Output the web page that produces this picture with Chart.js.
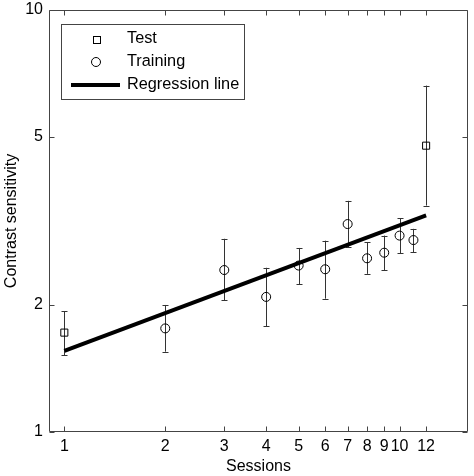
<!DOCTYPE html>
<html>
<head>
<meta charset="utf-8">
<script src="https://cdn.jsdelivr.net/npm/chart.js@4.4.1/dist/chart.umd.min.js"></script>
<style>
html,body{margin:0;padding:0;background:#fff;}
#wrap{position:relative;width:474px;height:476px;}
</style>
</head>
<body>
<div id="wrap"><canvas id="c" width="474" height="476"></canvas></div>
<script>
// ---- data ----
const testSessions = [1, 12];
const testValues = [1.72, 4.77];
const testUpper = [1.93, 6.62];
const testLower = [1.52, 3.44];

const trainSessions = [2, 3, 4, 5, 6, 7, 8, 9, 10, 11];
const trainValues = [1.76, 2.42, 2.09, 2.48, 2.43, 3.11, 2.58, 2.66, 2.92, 2.85];
const trainUpper  = [2.00, 2.87, 2.45, 2.73, 2.84, 3.53, 2.82, 2.92, 3.21, 3.03];
const trainLower  = [1.55, 2.05, 1.78, 2.24, 2.07, 2.74, 2.37, 2.42, 2.65, 2.67];

const regSessions = [1, 12];
const regValues = [1.556, 3.26];

const xTickValues = [1, 2, 3, 4, 5, 6, 7, 8, 9, 10, 12];
const yTickValues = [1, 2, 5, 10];

const FONT = "'Liberation Sans', Arial, Helvetica, sans-serif";

function pts(xs, ys, up, lo) {
  return xs.map((x, i) => ({x: x, y: ys[i], yMax: up ? up[i] : null, yMin: lo ? lo[i] : null}));
}

const errorBars = {
  id: 'errorBars',
  beforeDatasetsDraw(chart) {
    const ctx = chart.ctx;
    const xs = chart.scales.x, ys = chart.scales.y;
    ctx.save();
    ctx.strokeStyle = '#333';
    ctx.lineWidth = 1;
    chart.data.datasets.forEach(ds => {
      if (!ds.errorBars) return;
      ds.data.forEach(p => {
        const px = Math.round(xs.getPixelForValue(p.x)) + 0.5;
        const top = ys.getPixelForValue(p.yMax);
        const bot = ys.getPixelForValue(p.yMin);
        ctx.beginPath();
        ctx.moveTo(px, top); ctx.lineTo(px, bot);
        ctx.moveTo(px - 3, Math.round(top) + 0.5); ctx.lineTo(px + 3, Math.round(top) + 0.5);
        ctx.moveTo(px - 3, Math.round(bot) + 0.5); ctx.lineTo(px + 3, Math.round(bot) + 0.5);
        ctx.stroke();
      });
    });
    ctx.restore();
  }
};

const frame = {
  id: 'frame',
  afterDraw(chart) {
    const ctx = chart.ctx;
    const a = chart.chartArea;
    const xs = chart.scales.x, ys = chart.scales.y;
    ctx.save();
    ctx.strokeStyle = '#444';
    ctx.lineWidth = 1;
    const L = Math.round(a.left) + 0.5, R = Math.round(a.right) - 0.5;
    const T = Math.round(a.top) + 0.5, B = Math.round(a.bottom) - 0.5;
    ctx.beginPath();
    ctx.rect(L, T, R - L, B - T);
    const tl = 5;
    xTickValues.forEach(v => {
      const px = Math.round(xs.getPixelForValue(v)) + 0.5;
      ctx.moveTo(px, B); ctx.lineTo(px, B - tl);
      ctx.moveTo(px, T); ctx.lineTo(px, T + tl);
    });
    yTickValues.forEach(v => {
      const py = Math.round(ys.getPixelForValue(v)) + 0.5;
      ctx.moveTo(L, py); ctx.lineTo(L + tl, py);
      ctx.moveTo(R, py); ctx.lineTo(R - tl, py);
    });
    ctx.stroke();

    // legend
    const lx = a.left + 12, ly = a.top + 14, lw = 183, lh = 75;
    ctx.fillStyle = '#fff';
    ctx.fillRect(lx, ly, lw, lh);
    ctx.strokeStyle = '#444';
    ctx.strokeRect(Math.round(lx) + 0.5, Math.round(ly) + 0.5, lw, lh);
    ctx.strokeStyle = '#000';
    ctx.lineWidth = 1;
    const mx = a.left + 47;
    ctx.strokeRect(Math.round(mx - 3.5) + 0.5, Math.round(ly + 15 - 3.5) + 0.5, 7, 7);
    ctx.beginPath();
    ctx.arc(mx, ly + 38, 4.5, 0, Math.PI * 2);
    ctx.stroke();
    ctx.lineWidth = 4;
    ctx.beginPath();
    ctx.moveTo(a.left + 22, ly + 61);
    ctx.lineTo(a.left + 71, ly + 61);
    ctx.stroke();
    ctx.fillStyle = '#000';
    ctx.font = '16.3px ' + FONT;
    ctx.textBaseline = 'middle';
    ctx.textAlign = 'left';
    const tx = a.left + 78;
    ctx.fillText('Test', tx, ly + 15);
    ctx.fillText('Training', tx, ly + 38);
    ctx.fillText('Regression line', tx, ly + 61);
    ctx.restore();
  }
};

new Chart(document.getElementById('c'), {
  type: 'scatter',
  data: {
    datasets: [
      {
        label: 'Regression line',
        type: 'line',
        data: pts(regSessions, regValues),
        borderColor: '#000',
        borderWidth: 4,
        pointRadius: 0,
        fill: false,
        order: 0
      },
      {
        label: 'Test',
        data: pts(testSessions, testValues, testUpper, testLower),
        errorBars: true,
        pointStyle: 'rect',
        pointRadius: 5,
        borderColor: '#000',
        borderWidth: 1,
        backgroundColor: 'rgba(0,0,0,0)',
        order: 1
      },
      {
        label: 'Training',
        data: pts(trainSessions, trainValues, trainUpper, trainLower),
        errorBars: true,
        pointStyle: 'circle',
        pointRadius: 4.5,
        borderColor: '#000',
        borderWidth: 1,
        backgroundColor: 'rgba(0,0,0,0)',
        order: 2
      }
    ]
  },
  options: {
    responsive: false,
    animation: false,
    layout: {padding: {top: 10, right: 3, left: 0, bottom: 0}},
    plugins: {legend: {display: false}, tooltip: {enabled: false}},
    scales: {
      x: {
        type: 'logarithmic',
        min: 0.9,
        max: 16,
        afterBuildTicks(s) { s.ticks = xTickValues.map(v => ({value: v})); },
        afterFit(s) { s.height = 44; s.paddingLeft = 0; s.paddingRight = 0; },
        grid: {display: false, drawTicks: false},
        border: {display: false},
        ticks: {
          autoSkip: false, maxRotation: 0, padding: 5,
          color: '#000', font: {family: FONT, size: 16},
          callback: v => String(v)
        },
        title: {display: true, text: 'Sessions', color: '#000', font: {family: FONT, size: 16}, padding: {top: 0, bottom: 0}}
      },
      y: {
        type: 'logarithmic',
        min: 1,
        max: 10,
        afterBuildTicks(s) { s.ticks = yTickValues.map(v => ({value: v})); },
        afterFit(s) { s.width = 49; s.paddingTop = 0; s.paddingBottom = 0; },
        grid: {display: false, drawTicks: false},
        border: {display: false},
        ticks: {
          autoSkip: false, padding: 6,
          color: '#000', font: {family: FONT, size: 16},
          callback: v => String(v)
        },
        title: {display: true, text: 'Contrast sensitivity', color: '#000', font: {family: FONT, size: 16}, padding: {top: 2, bottom: 0}}
      }
    }
  },
  plugins: [errorBars, frame]
});
</script>
</body>
</html>
